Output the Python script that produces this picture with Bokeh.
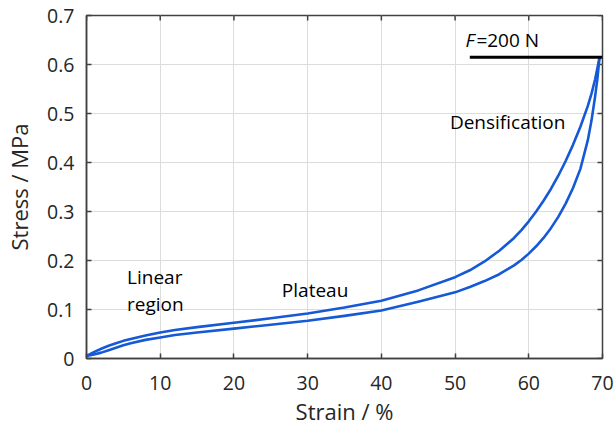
from bokeh.plotting import figure
from bokeh.models import Range1d, FixedTicker, Label
from bokeh.embed import file_html
from bokeh.resources import INLINE

# Loading curve (upper branch)
strain_load = [0, 1, 2, 3, 4, 5, 6, 8, 10, 12, 15, 20, 25, 30, 35, 40, 45, 50, 52, 54, 56, 58, 59, 60,
               61, 62, 63, 64, 65, 66, 67, 68, 68.5, 69, 69.3, 69.6]
stress_load = [0.005, 0.013, 0.020, 0.026, 0.031, 0.036, 0.040, 0.047, 0.053, 0.058, 0.064, 0.073, 0.082,
               0.092, 0.104, 0.118, 0.139, 0.166, 0.180, 0.198, 0.220, 0.246, 0.262, 0.280,
               0.300, 0.322, 0.346, 0.373, 0.403, 0.436, 0.473, 0.515, 0.540, 0.570, 0.592, 0.615]
# Unloading curve (lower branch)
strain_unload = [69.6, 69.3, 69, 68.5, 68, 67, 66, 65, 64, 63, 62, 61, 60, 59, 58, 56, 54, 52, 50, 45, 40,
                 35, 30, 25, 20, 15, 12, 10, 8, 6, 5, 4, 3, 2, 1, 0]
stress_unload = [0.615, 0.570, 0.535, 0.485, 0.445, 0.387, 0.348, 0.316, 0.289, 0.266, 0.246, 0.229, 0.214,
                 0.201, 0.190, 0.172, 0.158, 0.146, 0.135, 0.116, 0.098, 0.087, 0.077, 0.069, 0.061, 0.053,
                 0.048, 0.043, 0.038, 0.031, 0.027, 0.022, 0.017, 0.012, 0.008, 0.005]
# Force level marker
force_x = [52, 70]
force_y = [0.615, 0.615]

x_ticks = [0, 10, 20, 30, 40, 50, 60, 70]
y_ticks = [0, 0.1, 0.2, 0.3, 0.4, 0.5, 0.6, 0.7]
x_title = "Strain / %"
y_title = "Stress / MPa"

FONT = "Open Sans"
AXC = "#404040"
TXT = "#262626"
X0, X1, Y0, Y1 = 0, 70, 0, 0.7

p = figure(width=616, height=428, output_backend="svg", toolbar_location=None,
           x_range=Range1d(X0, X1), y_range=Range1d(Y0, Y1),
           min_border_left=86, min_border_right=14, min_border_top=15, min_border_bottom=70)
p.outline_line_color = AXC
p.outline_line_width = 1.5

for ax in (p.xaxis[0], p.yaxis[0]):
    ax.major_tick_in = 5
    ax.major_tick_out = 0
    ax.minor_tick_in = 0
    ax.minor_tick_out = 0
    ax.axis_line_color = AXC
    ax.axis_line_width = 1.5
    ax.major_tick_line_color = AXC
    ax.major_tick_line_width = 1.5
    ax.major_label_text_font = FONT
    ax.major_label_text_font_size = "19.5px"
    ax.major_label_text_color = TXT
    ax.axis_label_text_font = FONT
    ax.axis_label_text_font_size = "22px"
    ax.axis_label_text_font_style = "normal"
    ax.axis_label_text_color = TXT

p.xaxis.ticker = FixedTicker(ticks=x_ticks)
p.yaxis.ticker = FixedTicker(ticks=y_ticks)
p.yaxis.major_label_overrides = {0: "0"}
p.xaxis.axis_label = x_title
p.yaxis.axis_label = y_title
p.xaxis.major_label_standoff = 17
p.xaxis.axis_label_standoff = 3
p.yaxis.major_label_standoff = 12
p.yaxis.axis_label_standoff = 10

p.grid.grid_line_color = "#dcdcdc"
p.grid.grid_line_width = 1

# inward ticks on the top and right edges of the box (5 px long)
tick_dy = 5 * (Y1 - Y0) / 343
tick_dx = 5 * (X1 - X0) / 516
p.segment(x0=x_ticks, y0=[Y1] * len(x_ticks), x1=x_ticks, y1=[Y1 - tick_dy] * len(x_ticks),
          line_color=AXC, line_width=1.5)
p.segment(x0=[X1] * len(y_ticks), y0=y_ticks, x1=[X1 - tick_dx] * len(y_ticks), y1=y_ticks,
          line_color=AXC, line_width=1.5)

blue = "#1559d6"
p.line(strain_load, stress_load, line_color=blue, line_width=2.6, line_join="round")
p.line(strain_unload, stress_unload, line_color=blue, line_width=2.6, line_join="round")
p.line(force_x, force_y, line_color="black", line_width=3)

def lab(x, y, t, **kw):
    p.add_layout(Label(x=x, y=y, text=t, text_font=FONT, text_font_size="19px",
                       text_color="black", text_baseline="middle", **kw))

lab(5.5, 0.166, "Linear")
lab(5.5, 0.112, "region")
lab(26.5, 0.139, "Plateau")
lab(49.3, 0.483, "Densification")
lab(51.4, 0.649, "F", text_font_style="italic")
lab(51.4, 0.649, "=200 N", x_offset=11)

open("out.html", "w").write(file_html(p, INLINE))
